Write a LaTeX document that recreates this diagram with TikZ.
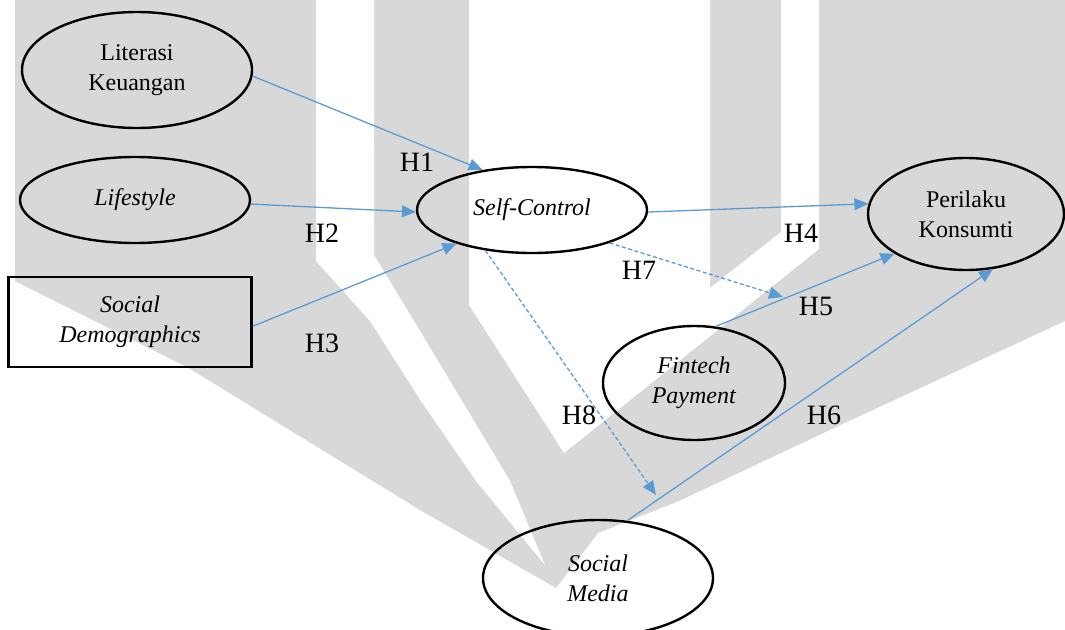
\documentclass[tikz,border=0pt]{standalone}
\usepackage{fontspec}
\setmainfont{Liberation Serif}
\usetikzlibrary{arrows.meta, positioning, shapes.geometric}
\usepackage{xcolor}
\definecolor{linkblue}{RGB}{91,155,213}
\definecolor{markgray}{RGB}{216,216,216}
\def\nodefont{\fontsize{24}{30}\selectfont}

\begin{document}
\begin{tikzpicture}[x=1pt,y=-1pt,>={Triangle[length=14pt,width=12pt]},font=\nodefont]
    \tikzstyle{construct}=[ellipse,draw=black,line width=2.4pt,inner sep=0pt,align=center]
    \tikzstyle{flat construct}=[construct,minimum width=230pt,minimum height=86pt]
    \tikzstyle{round construct}=[construct,minimum width=230pt,minimum height=116pt]
    \tikzstyle{box}=[rectangle,draw=black,line width=2.4pt,inner sep=0pt,align=center,minimum width=243pt,minimum height=90pt]
    \tikzstyle{link}=[->,draw=linkblue,line width=1.3pt]
    \tikzstyle{dashed link}=[link,dash pattern=on 4pt off 2.5pt]
    \tikzstyle{hyp}=[font=\fontsize{28}{30}\selectfont,inner sep=0pt]

    \clip (0,0) rectangle (1065,629);
    \fill[white] (0,0) rectangle (1065,629);

    % Draw the watermark behind the model
    \fill[markgray] (15,0) -- (1065,0) -- (1065,321) -- (849,421) -- (679,501) -- (598,533) -- (556,588)
        -- (420,510) -- (187,367) -- (15,281) -- cycle;
    \fill[white] (316,0) -- (374,0) -- (374,255) -- (414,321) -- (462,401) -- (510,481) -- (545,565)
        -- (476,481) -- (421,401) -- (370,321) -- (316,261) -- cycle;
    \fill[white] (469,0) -- (710,0) -- (710,288) -- (781,232) -- (781,0) -- (819,0) -- (819,249)
        -- (564,453) -- (469,305) -- cycle;

    % Draw the constructs
    \node[round construct] (LK) at (137,70) {Literasi\\Keuangan};
    \node[flat construct] (LS) at (135,200) {\textit{Lifestyle}};
    \node[box] (SD) at (130,322) {\textit{Social}\\\textit{Demographics}};
    \node[flat construct] (SC) at (532,210) {\textit{Self-Control}};
    \node[construct, minimum width=196pt, minimum height=112pt] (PK) at (966,214) {Perilaku\\Konsumti};
    \node[construct, minimum width=182pt, minimum height=114pt] (FP) at (694,383) {\textit{Fintech}\\\textit{Payment}};
    \node[round construct] (SM) at (598,578) {\textit{Social}\\\textit{Media}};

    % Draw the hypotheses
    \foreach \hnum/\hx/\hy in {1/417/162, 2/322/233, 3/322/343, 4/801/233, 5/816/306, 6/824/415, 7/639/270, 8/579/415}
        \node[hyp] (H\hnum) at (\hx,\hy) {H\hnum};

    \coordinate (H7end) at (783,297);
    \coordinate (H8end) at (656,495);

    \draw[link] (LK.-3) -- (SC.141);
    \draw[link] (LS.-2) -- (SC.181);
    \draw[link] (SD.-2) -- (SC.204);
    \draw[link] (SC.-1) -- (PK.174);
    \draw[link] (FP.69) -- (PK.209);
    \draw[link] (SM.63) -- (PK.-64);
    \draw[dashed link] (SC.-23) -- (H7end);
    \draw[dashed link] (SC.221) -- (H8end);
\end{tikzpicture}
\end{document}
